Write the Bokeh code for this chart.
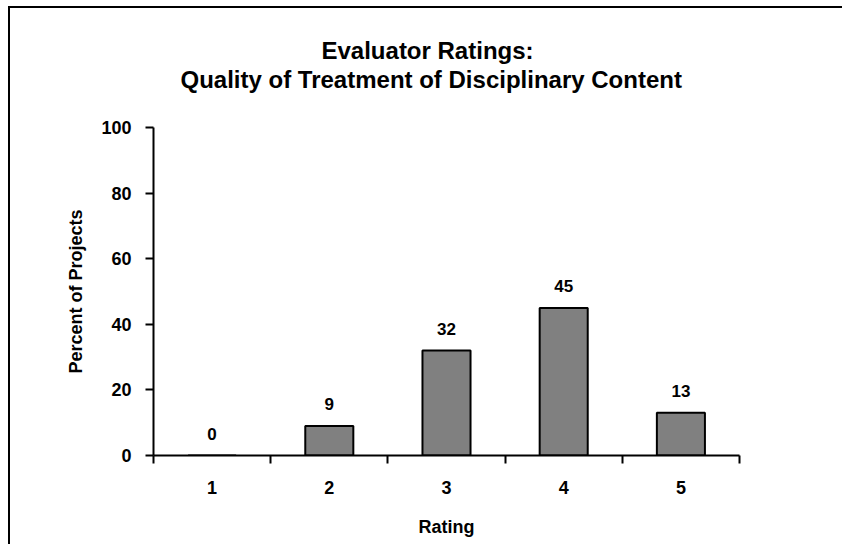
from bokeh.plotting import figure
from bokeh.models import Range1d, FixedTicker, Title
from bokeh.core.properties import value
from bokeh.embed import file_html
from bokeh.resources import INLINE

# Data
ratings = [1, 2, 3, 4, 5]
rating_labels = ["1", "2", "3", "4", "5"]
percents = [0, 9, 32, 45, 13]
y_ticks = [0, 20, 40, 60, 80, 100]
title_lines = ["Evaluator Ratings:", "Quality of Treatment of Disciplinary Content"]

FONT = "Liberation Sans"

p = figure(width=842, height=544, output_backend="svg", toolbar_location=None,
           x_range=Range1d(0.5, 5.5), y_range=Range1d(0, 100),
           min_border_left=153, min_border_right=103,
           min_border_top=127, min_border_bottom=89)
p.title = None

# outer chart border: left and top edges only (the rest runs off the page)
p.styles = {
    "background": "linear-gradient(#000,#000) 8px 6px / 2px 100% no-repeat, "
                  "linear-gradient(#000,#000) 8px 6px / 100% 2px no-repeat, #fff"
}
p.border_fill_color = None
p.background_fill_color = "white"

# spacer between plot and title block
p.add_layout(Title(text=" ", text_font_size="1px", standoff=32), "above")
# title: second line nearest the plot, then first line above it
for line, off in [(title_lines[1], 27), (title_lines[0], 168)]:
    p.add_layout(Title(text=line, align="left", offset=off, standoff=0,
                       text_font=FONT, text_font_size="24px",
                       text_font_style="bold", text_color="black"), "above")

p.outline_line_color = None
p.xgrid.grid_line_color = None
p.ygrid.grid_line_color = None

p.vbar(x=ratings, top=percents, width=0.41, fill_color="#808080",
       line_color="black", line_width=2)

p.text(x=ratings, y=percents, text=[str(v) for v in percents],
       text_font=value(FONT), text_font_size="17px", text_font_style="bold",
       text_align="center", text_baseline="middle", y_offset=-22,
       text_color="black")

xa = p.xaxis[0]
xa.ticker = FixedTicker(ticks=ratings, minor_ticks=[r - 0.5 for r in ratings] + [ratings[-1] + 0.5])
xa.major_label_overrides = {r: lab for r, lab in zip(ratings, rating_labels)}
xa.major_tick_out = 0
xa.major_tick_in = 0
xa.minor_tick_out = 8
xa.minor_tick_in = 0
xa.minor_tick_line_width = 2
xa.minor_tick_line_color = "black"
xa.axis_line_width = 2
xa.axis_line_color = "black"
xa.major_label_standoff = 17
xa.major_label_text_font = FONT
xa.major_label_text_font_size = "18px"
xa.major_label_text_font_style = "bold"
xa.major_label_text_color = "black"
xa.axis_label = "Rating"
xa.axis_label_text_font = FONT
xa.axis_label_text_font_size = "18px"
xa.axis_label_text_font_style = "bold"
xa.axis_label_text_color = "black"
xa.axis_label_standoff = 20

ya = p.yaxis[0]
ya.ticker = FixedTicker(ticks=y_ticks)
ya.major_tick_out = 8
ya.major_tick_in = 0
ya.minor_tick_out = 0
ya.minor_tick_in = 0
ya.major_tick_line_width = 2
ya.major_tick_line_color = "black"
ya.axis_line_width = 2
ya.axis_line_color = "black"
ya.major_label_standoff = 14
ya.major_label_text_font = FONT
ya.major_label_text_font_size = "18px"
ya.major_label_text_font_style = "bold"
ya.major_label_text_color = "black"
ya.axis_label = "Percent of Projects"
ya.axis_label_text_font = FONT
ya.axis_label_text_font_size = "18px"
ya.axis_label_text_font_style = "bold"
ya.axis_label_text_color = "black"
ya.axis_label_standoff = 12

open("out.html", "w").write(file_html(p, INLINE))
